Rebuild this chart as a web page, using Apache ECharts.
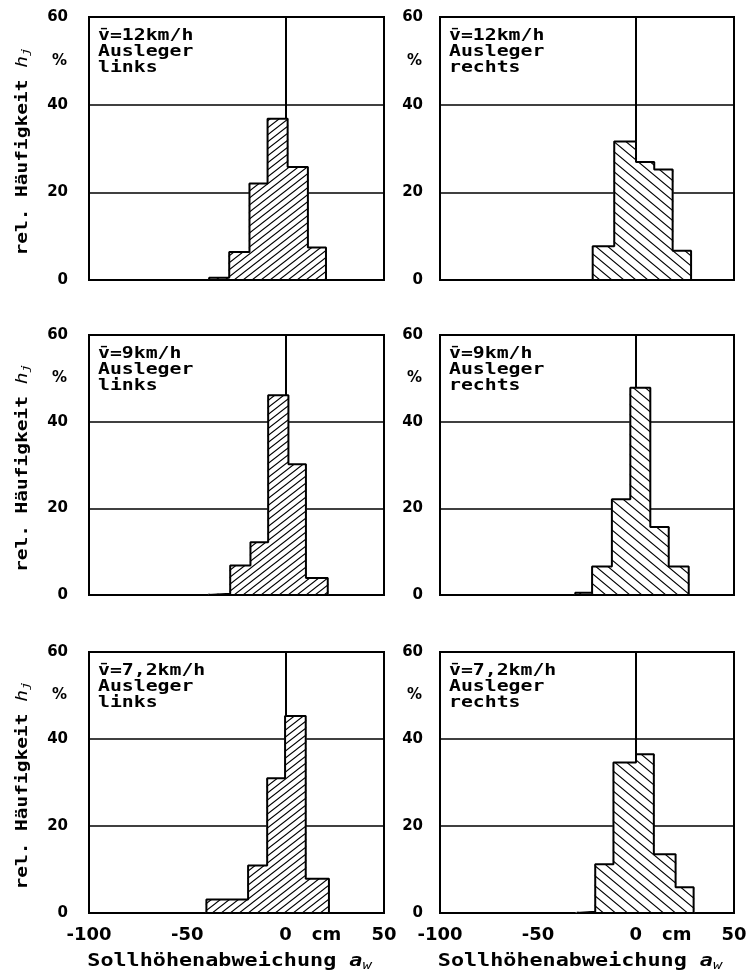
<!DOCTYPE html>
<html>
<head>
<meta charset="utf-8">
<script src="https://cdn.jsdelivr.net/npm/echarts@6/dist/echarts.min.js"></script>
<style>
html,body{margin:0;padding:0;background:#fff;}
#chart{width:746px;height:975px;}
</style>
</head>
<body>
<div id="chart"></div>
<script>
// ---- data ----
const speeds = ['12', '9', '7,2'];
const sides = ['links', 'rechts'];
const xTickValues = [-100, -50, 0, 50];
const xUnit = 'cm';
const yTickValues = [0, 20, 40, 60];
const xTitle = 'Sollhöhenabweichung ';
const yTitle = 'rel. Häufigkeit ';

// bin edges (cm) and relative frequencies (%)
const edges_12_links  = [-38.9, -28.7, -18.4, -9.2, 1.0, 11.3, 20.5];
const freq_12_links   = [0.5, 6.4, 22.0, 36.8, 25.8, 7.4];
const edges_12_rechts = [-22.1, -11.1, 0.0, 9.3, 18.7, 28.1];
const freq_12_rechts  = [7.7, 31.6, 26.9, 25.2, 6.7];
const edges_9_links   = [-39.3, -28.2, -17.9, -8.9, 1.4, 10.3, 21.4];
const freq_9_links    = [0.3, 6.8, 12.2, 46.1, 30.2, 3.9];
const edges_9_rechts  = [-31.0, -22.4, -12.3, -2.9, 7.3, 16.7, 26.9];
const freq_9_rechts   = [0.5, 6.6, 22.1, 47.8, 15.7, 6.6];
const edges_72_links  = [-40.3, -19.1, -9.4, -0.3, 10.2, 22.0];
const freq_72_links   = [3.1, 10.9, 31.0, 45.3, 7.9];
const edges_72_rechts = [-30.4, -20.8, -11.5, 0.0, 9.1, 20.2, 29.4];
const freq_72_rechts  = [0.3, 11.2, 34.6, 36.5, 13.5, 5.9];

const panels = [
  [[edges_12_links, freq_12_links], [edges_12_rechts, freq_12_rechts]],
  [[edges_9_links, freq_9_links],   [edges_9_rechts, freq_9_rechts]],
  [[edges_72_links, freq_72_links], [edges_72_rechts, freq_72_rechts]]
];

// ---- layout ----
const colLeft = [89, 440];
const colWidth = [295, 294];
const rowTop = [17, 335, 652];
const rowHeight = [263, 260, 261];
const yLabelMargin = [21, 17];

function makeHatch(a, b, dir) {
  const cv = document.createElement('canvas');
  cv.width = a; cv.height = b;
  const ctx = cv.getContext('2d');
  ctx.fillStyle = '#fff';
  ctx.fillRect(0, 0, a, b);
  ctx.strokeStyle = '#000';
  ctx.lineWidth = 1.1;
  ctx.beginPath();
  for (let k = -1; k <= 2; k++) {
    if (dir > 0) {
      ctx.moveTo(k * a - a, 2 * b);
      ctx.lineTo(k * a + 2 * a, -b);
    } else {
      ctx.moveTo(k * a - a, -b);
      ctx.lineTo(k * a + 2 * a, 2 * b);
    }
  }
  ctx.stroke();
  return { image: cv, repeat: 'repeat' };
}
const hatchLeft = makeHatch(9, 7, 1);
const hatchRight = makeHatch(12, 10, -1);

const labelFont = '"DejaVu Sans", sans-serif';
const monoFont = '"DejaVu Sans Mono", monospace';

const grids = [], xAxes = [], yAxes = [], series = [], graphics = [];
let gi = 0;
for (let r = 0; r < 3; r++) {
  for (let c = 0; c < 2; c++) {
    const L = colLeft[c], T = rowTop[r], W = colWidth[c], H = rowHeight[r];
    grids.push({ left: L, top: T, width: W, height: H, show: true,
      containLabel: false, outerBoundsMode: 'none',
      borderColor: '#000', borderWidth: 2, backgroundColor: 'transparent' });
    const bottom = r === 2;
    xAxes.push({
      gridIndex: gi, type: 'value', min: -100, max: 50, interval: 50,
      axisLine: { show: false }, axisTick: { show: false }, splitLine: { show: false },
      axisLabel: {
        show: bottom, margin: 13, color: '#000',
        fontFamily: labelFont, fontWeight: 'bold', fontSize: 18,
        showMinLabel: true, showMaxLabel: true,
        formatter: function (v) {
          if (xTickValues.indexOf(v) < 0) return '';
          if (v === 0) return '{p|}{z|0}{u|' + xUnit + '}';
          return String(v);
        },
        rich: {
          p: { width: 49, fontFamily: labelFont, fontWeight: 'bold', fontSize: 18, color: '#000' },
          z: { fontFamily: labelFont, fontWeight: 'bold', fontSize: 18, color: '#000' },
          u: { padding: [0, 0, 0, 20], fontFamily: labelFont, fontWeight: 'bold', fontSize: 18, color: '#000' }
        }
      }
    });
    yAxes.push({
      gridIndex: gi, type: 'value', min: 0, max: 60, interval: 20,
      axisLine: { show: false }, axisTick: { show: false },
      splitLine: { show: true, lineStyle: { color: '#000', width: 1.5 } },
      axisLabel: {
        margin: yLabelMargin[c], color: '#000',
        fontFamily: labelFont, fontWeight: 'bold', fontSize: 15,
        formatter: function (v) { return yTickValues.indexOf(v) >= 0 ? String(v) : ''; }
      }
    });
    const edges = panels[r][c][0], freq = panels[r][c][1];
    const bins = freq.map(function (f, i) { return [edges[i], edges[i + 1], f]; });
    const outline = [[edges[0], 0]];
    freq.forEach(function (f, i) { outline.push([edges[i], f], [edges[i + 1], f]); });
    outline.push([edges[edges.length - 1], 0], [edges[0], 0]);
    const pattern = c === 0 ? hatchLeft : hatchRight;
    // zero reference line (below the bars)
    series.push({
      type: 'line', xAxisIndex: gi, yAxisIndex: gi, z: 1, data: [[0, 0]],
      symbol: 'none', lineStyle: { opacity: 0 }, silent: true,
      markLine: { silent: true, symbol: 'none', z: 1, label: { show: false },
        lineStyle: { color: '#000', width: 2, type: 'solid' },
        data: [{ xAxis: 0 }] }
    });
    // hatched fill
    series.push({
      type: 'custom', xAxisIndex: gi, yAxisIndex: gi, z: 6, data: bins,
      encode: { x: [0, 1], y: 2 },
      renderItem: function (params, api) {
        const p0 = api.coord([api.value(0), api.value(2)]);
        const p1 = api.coord([api.value(1), 0]);
        return { type: 'rect',
          shape: { x: p0[0] - 0.6, y: p0[1], width: p1[0] - p0[0] + 1.2, height: p1[1] - p0[1] },
          style: { fill: pattern, stroke: null } };
      }
    });
    // step outline
    series.push({
      type: 'line', xAxisIndex: gi, yAxisIndex: gi, z: 7, data: outline,
      symbol: 'none', lineStyle: { color: '#000', width: 2 }, silent: true,
      animation: false
    });
    // panel text
    graphics.push({
      type: 'text', x: L + 9, y: T + 11, scaleX: 1.32, z: 10,
      style: { text: 'v\u0304=' + speeds[r] + 'km/h\nAusleger\n' + sides[c],
        font: 'bold 15px ' + monoFont, lineHeight: 16, fill: '#000',
        align: 'left', verticalAlign: 'top' }
    });
    // percent sign
    graphics.push({
      type: 'text', x: L - yLabelMargin[c] - 1, y: T + H / 6, z: 10,
      style: { text: '%', font: 'bold 15px ' + labelFont, fill: '#000',
        align: 'right', verticalAlign: 'middle' }
    });
    if (c === 0) {
      graphics.push({
        type: 'text', x: 23, y: T + H / 2 + 3, rotation: Math.PI / 2, scaleX: 1.3, z: 10,
        style: { text: '{t|' + yTitle + '}{h|h}{j|j}', align: 'center', verticalAlign: 'middle',
          rich: {
            t: { font: 'bold 15px ' + monoFont, fill: '#000' },
            h: { font: 'italic 15px ' + monoFont, fill: '#000' },
            j: { font: 'italic 11px ' + monoFont, fill: '#000', padding: [6, 0, 0, 0] }
          } }
      });
    }
    if (bottom) {
      graphics.push({
        type: 'text', x: L + W / 2 - 7, y: 962, scaleX: 1.28, z: 10,
        style: { text: '{t|' + xTitle + '}{a|a}{w|w}', align: 'center', verticalAlign: 'middle',
          rich: {
            t: { font: 'bold 17px ' + monoFont, fill: '#000' },
            a: { font: 'bold italic 17px ' + monoFont, fill: '#000' },
            w: { font: 'italic 12px ' + monoFont, fill: '#000', padding: [7, 0, 0, 0] }
          } }
      });
    }
    gi++;
  }
}

const chart = echarts.init(document.getElementById('chart'), null, { renderer: 'canvas' });
chart.setOption({
  backgroundColor: '#fff',
  animation: false,
  grid: grids,
  xAxis: xAxes,
  yAxis: yAxes,
  series: series,
  graphic: graphics
});
</script>
</body>
</html>
